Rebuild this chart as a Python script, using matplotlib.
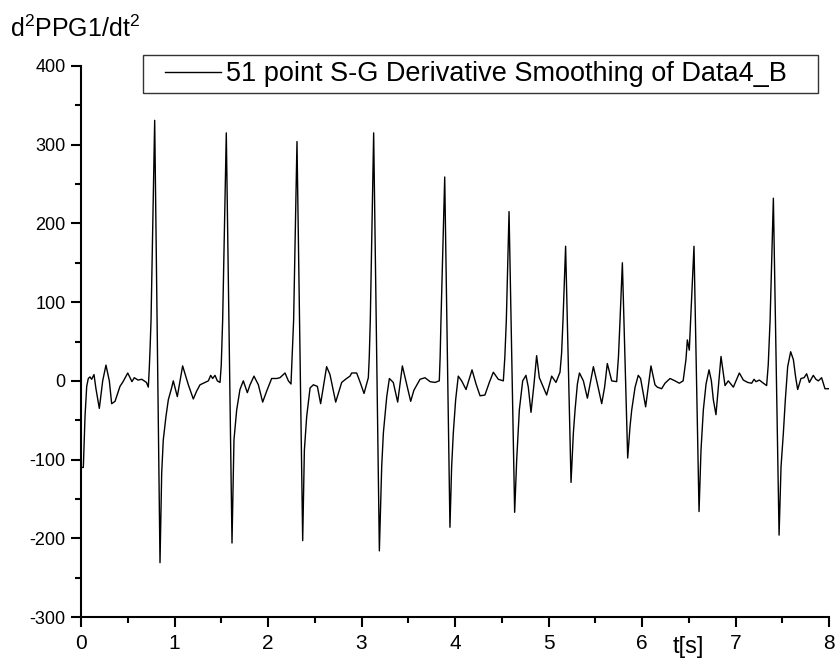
import matplotlib
matplotlib.use("Agg")
import matplotlib.pyplot as plt
from matplotlib.patches import Rectangle
from matplotlib.ticker import MultipleLocator

plt.rcParams['font.family'] = ['Liberation Sans', 'DejaVu Sans']
plt.rcParams['mathtext.fontset'] = 'custom'
plt.rcParams['mathtext.rm'] = 'Liberation Sans'
plt.rcParams['mathtext.it'] = 'Liberation Sans:italic'
plt.rcParams['axes.unicode_minus'] = False

# ---- data ----
t_sec = [
    0.000, 0.025, 0.043, 0.061, 0.078, 0.096, 0.114, 0.139, 0.160, 0.196,
    0.232, 0.267, 0.303, 0.328, 0.364, 0.417, 0.450, 0.500, 0.545, 0.570,
    0.610, 0.650, 0.700, 0.720, 0.730, 0.740, 0.749, 0.788, 0.845, 0.863,
    0.880, 0.909, 0.934, 0.969, 0.987, 1.030, 1.087, 1.148, 1.201, 1.237,
    1.273, 1.326, 1.362, 1.387, 1.408, 1.433, 1.458, 1.487, 1.500, 1.515,
    1.554, 1.615, 1.636, 1.665, 1.700, 1.736, 1.779, 1.808, 1.850, 1.897,
    1.943, 1.986, 2.039, 2.093, 2.128, 2.182, 2.218, 2.246, 2.258, 2.274,
    2.310, 2.371, 2.389, 2.414, 2.450, 2.485, 2.528, 2.563, 2.627, 2.663,
    2.724, 2.788, 2.840, 2.877, 2.895, 2.948, 2.980, 3.027, 3.073, 3.083,
    3.094, 3.130, 3.191, 3.216, 3.234, 3.270, 3.298, 3.340, 3.387, 3.437,
    3.483, 3.526, 3.560, 3.626, 3.679, 3.733, 3.786, 3.832, 3.841, 3.850,
    3.890, 3.946, 3.964, 3.982, 4.007, 4.035, 4.071, 4.118, 4.182, 4.225,
    4.268, 4.320, 4.367, 4.410, 4.463, 4.517, 4.533, 4.549, 4.578, 4.638,
    4.660, 4.688, 4.724, 4.759, 4.784, 4.813, 4.845, 4.873, 4.902, 4.927,
    4.980, 5.034, 5.080, 5.123, 5.140, 5.155, 5.183, 5.241, 5.266, 5.284,
    5.309, 5.331, 5.373, 5.416, 5.480, 5.523, 5.569, 5.600, 5.629, 5.676,
    5.729, 5.748, 5.765, 5.790, 5.847, 5.872, 5.890, 5.926, 5.960, 5.985,
    6.039, 6.096, 6.139, 6.164, 6.210, 6.246, 6.300, 6.353, 6.399, 6.440,
    6.470, 6.485, 6.506, 6.520, 6.556, 6.610, 6.631, 6.656, 6.685, 6.717,
    6.742, 6.763, 6.791, 6.820, 6.845, 6.888, 6.923, 6.977, 7.041, 7.084,
    7.130, 7.173, 7.198, 7.219, 7.255, 7.287, 7.333, 7.350, 7.370, 7.405,
    7.466, 7.487, 7.512, 7.533, 7.558, 7.590, 7.619, 7.644, 7.665, 7.700,
    7.733, 7.761, 7.790, 7.832, 7.860, 7.886, 7.921, 7.957, 8.000,
]
d2ppg = [
    -110, -110, -45, -7, 3, 5, 2, 8, -10, -35,
    0, 20, 0, -29, -26, -7, -1, 10, -1, 4,
    1, 2, -2, -8, 15, 45, 77, 331, -231, -117,
    -75, -45, -24, -9, 0, -20, 19, -5, -23, -13,
    -5, -2, 0, 7, 3, 7, 0, -2, 20, 77,
    315, -206, -75, -37, -11, 0, -15, -5, 6, -5,
    -27, -13, 3, 3, 4, 10, 0, -4, 30, 77,
    304, -203, -88, -45, -9, -5, -7, -29, 18, 8,
    -27, -2, 3, 6, 10, 10, 0, -16, 4, 30,
    77, 315, -216, -109, -66, -20, 3, -2, -27, 19,
    -4, -26, -12, 2, 4, -1, -2, 0, 30, 77,
    259, -186, -109, -66, -24, 6, 0, -11, 14, -4,
    -19, -18, -2, 11, 2, 0, 30, 77, 215, -167,
    -100, -37, 0, 7, -8, -40, -4, 32, 4, -3,
    -18, 6, -2, 11, 35, 77, 171, -129, -66, -37,
    -4, 10, 0, -22, 18, -4, -29, -8, 22, 0,
    -1, 30, 77, 150, -98, -58, -37, -8, 7, 3,
    -33, 19, -5, -8, -10, -3, 3, 0, -3, 0,
    27, 52, 39, 77, 171, -166, -88, -37, -4, 14,
    0, -24, -43, -4, 31, -6, 0, -8, 10, 1,
    -2, -3, 2, -1, 1, -2, -6, 20, 77, 232,
    -196, -109, -66, -24, 18, 37, 27, 4, -11, 3,
    4, 9, -2, 7, 2, 0, 4, -10, -10,
]
series_label = "51 point S-G Derivative Smoothing of Data4_B"
x_ticks = [0, 1, 2, 3, 4, 5, 6, 7, 8]
y_ticks = [-300, -200, -100, 0, 100, 200, 300, 400]
y_title = r"d$^{\mathrm{2}}$PPG1/dt$^{\mathrm{2}}$"
x_title = "t[s]"

W, H = 839, 660
fig = plt.figure(figsize=(W / 100, H / 100), dpi=100)
L, R, T, B = 81, 829, 66, 617
ax = fig.add_axes([L / W, 1 - B / H, (R - L) / W, (B - T) / H])

ax.plot(t_sec, d2ppg, color='black', lw=1.0, label=series_label)

ax.set_xlim(0, 8)
ax.set_ylim(-300, 400)
ax.set_xticks(x_ticks)
ax.set_yticks(y_ticks)
ax.xaxis.set_minor_locator(MultipleLocator(0.5))
ax.yaxis.set_minor_locator(MultipleLocator(50))

for s in ['top', 'right']:
    ax.spines[s].set_visible(False)
for s in ['left', 'bottom']:
    ax.spines[s].set_linewidth(1.5)
    ax.spines[s].set_color('black')

ax.tick_params(which='major', direction='out', length=7, width=1.5, color='black')
ax.tick_params(which='minor', direction='out', length=4, width=1.5, color='black')
ax.tick_params(axis='y', labelsize=13, pad=4)
ax.tick_params(axis='x', labelsize=15, pad=5)

# axis titles
fig.text(10 / W, 1 - 37 / H, y_title, fontsize=18, ha='left', va='baseline')
ax.text(6.5, -(653 - 617) / (B - T), x_title, fontsize=17, ha='center',
        va='baseline', transform=ax.get_xaxis_transform())

# legend with a manually drawn frame
leg = ax.legend(loc='center', bbox_to_anchor=(476 / W, 1 - 74 / H),
                bbox_transform=fig.transFigure, frameon=False,
                fontsize=19.5, handlelength=2.05, handletextpad=0.2,
                borderpad=0.0, borderaxespad=0.0)
fig.add_artist(Rectangle((143 / W, 1 - 93 / H), (818 - 143) / W, 38 / H,
                         transform=fig.transFigure, fill=False,
                         edgecolor='#333333', lw=1.0))

fig.savefig('out.png', dpi=100)
